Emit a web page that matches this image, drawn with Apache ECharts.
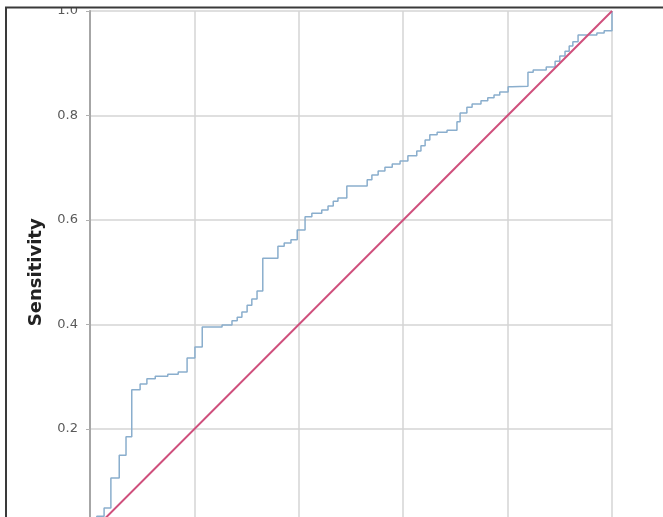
<!DOCTYPE html>
<html>
<head>
<meta charset="utf-8">
<script src="https://cdn.jsdelivr.net/npm/echarts@6/dist/echarts.min.js"></script>
<style>
html,body{margin:0;padding:0;background:#fff;}
#chart{width:663px;height:517px;}
</style>
</head>
<body>
<div id="chart"></div>
<script>
// ROC curve vertices (1 - specificity, sensitivity)
var fpr = [0,0,0.013,0.013,0.027,0.027,0.040,0.040,0.056,0.056,0.069,0.069,0.080,0.080,0.096,0.096,0.109,0.109,0.125,0.125,0.149,0.149,0.169,0.169,0.186,0.186,0.201,0.201,0.215,0.215,0.253,0.253,0.272,0.272,0.282,0.282,0.291,0.291,0.301,0.301,0.310,0.310,0.320,0.320,0.331,0.331,0.360,0.360,0.372,0.372,0.385,0.385,0.397,0.397,0.412,0.412,0.425,0.425,0.444,0.444,0.456,0.456,0.466,0.466,0.475,0.475,0.492,0.492,0.531,0.531,0.540,0.540,0.552,0.552,0.565,0.565,0.579,0.579,0.594,0.594,0.609,0.609,0.626,0.626,0.634,0.634,0.642,0.642,0.651,0.651,0.665,0.665,0.684,0.684,0.703,0.703,0.709,0.709,0.722,0.722,0.732,0.732,0.749,0.749,0.762,0.762,0.774,0.774,0.785,0.785,0.801,0.801,0.808,0.808,0.839,0.839,0.849,0.849,0.874,0.874,0.891,0.891,0.900,0.900,0.910,0.910,0.918,0.918,0.925,0.925,0.935,0.935,0.971,0.971,0.985,0.985,1.0,1.0];
var tpr = [0,0.014,0.014,0.033,0.033,0.049,0.049,0.106,0.106,0.150,0.150,0.185,0.185,0.275,0.275,0.286,0.286,0.296,0.296,0.301,0.301,0.305,0.305,0.309,0.309,0.336,0.336,0.357,0.357,0.395,0.395,0.399,0.399,0.407,0.407,0.414,0.414,0.424,0.424,0.437,0.437,0.449,0.449,0.464,0.464,0.527,0.527,0.550,0.550,0.556,0.556,0.562,0.562,0.581,0.581,0.606,0.606,0.613,0.613,0.619,0.619,0.627,0.627,0.636,0.636,0.642,0.642,0.665,0.665,0.677,0.677,0.686,0.686,0.694,0.694,0.701,0.701,0.707,0.707,0.713,0.713,0.723,0.723,0.732,0.732,0.742,0.742,0.753,0.753,0.763,0.763,0.768,0.768,0.772,0.772,0.788,0.788,0.805,0.805,0.816,0.816,0.822,0.822,0.828,0.828,0.834,0.834,0.839,0.839,0.845,0.845,0.855,0.855,0.856,0.856,0.883,0.883,0.887,0.887,0.893,0.893,0.904,0.904,0.914,0.914,0.923,0.923,0.933,0.933,0.941,0.941,0.954,0.954,0.958,0.958,0.962,0.962,1.0];
var refX = [0, 1];
var refY = [0, 1];
var yTicks = [0, 0.2, 0.4, 0.6, 0.8, 1.0];
var yTitle = 'Sensitivity';

var rocData = fpr.map(function (x, i) { return [x, tpr[i]]; });
var refData = refX.map(function (x, i) { return [x, refY[i]]; });

var chart = echarts.init(document.getElementById('chart'), null, {renderer: 'canvas'});
chart.setOption({
  backgroundColor: '#ffffff',
  animation: false,
  textStyle: {fontFamily: 'Open Sans'},
  grid: {left: 90, top: 11, width: 522, height: 522.5, containLabel: false, outerBoundsMode: 'none'},
  xAxis: {
    type: 'value', min: 0, max: 1, interval: 0.2,
    axisLine: {show: false},
    axisTick: {show: false},
    axisLabel: {show: false},
    splitLine: {show: true, lineStyle: {color: '#d5d5d5', width: 1.5}}
  },
  yAxis: {
    type: 'value', min: yTicks[0], max: yTicks[yTicks.length - 1], interval: 0.2,
    name: yTitle,
    nameLocation: 'middle',
    nameGap: 45,
    nameTextStyle: {fontFamily: 'DejaVu Sans', fontWeight: 'bold', fontSize: 18, color: '#222'},
    axisLine: {show: true, lineStyle: {color: '#a6a6a6', width: 2}},
    axisTick: {show: true, length: 4, lineStyle: {color: '#b0b0b0', width: 1}},
    axisLabel: {
      color: '#5a5a5a', fontSize: 13, margin: 12, fontFamily: 'DejaVu Sans',
      formatter: function (v) { return v.toFixed(1); }
    },
    splitLine: {show: true, lineStyle: {color: '#d5d5d5', width: 1.5}}
  },
  series: [
    {
      type: 'line', data: rocData, showSymbol: false, symbol: 'none',
      lineStyle: {color: '#8aaecd', width: 1.5}, z: 3
    },
    {
      type: 'line', data: refData, showSymbol: false, symbol: 'none',
      lineStyle: {color: '#cf4f7c', width: 2}, z: 4
    }
  ],
  graphic: [
    {
      type: 'rect', z: 99,
      shape: {x: 0, y: 0, width: 663, height: 7},
      style: {fill: '#ffffff'}
    },
    {
      type: 'polyline', z: 100,
      shape: {points: [[6, 517], [6, 7.5], [663, 7.5]]},
      style: {stroke: '#3a3a3a', lineWidth: 2, fill: null}
    }
  ]
});
</script>
</body>
</html>
